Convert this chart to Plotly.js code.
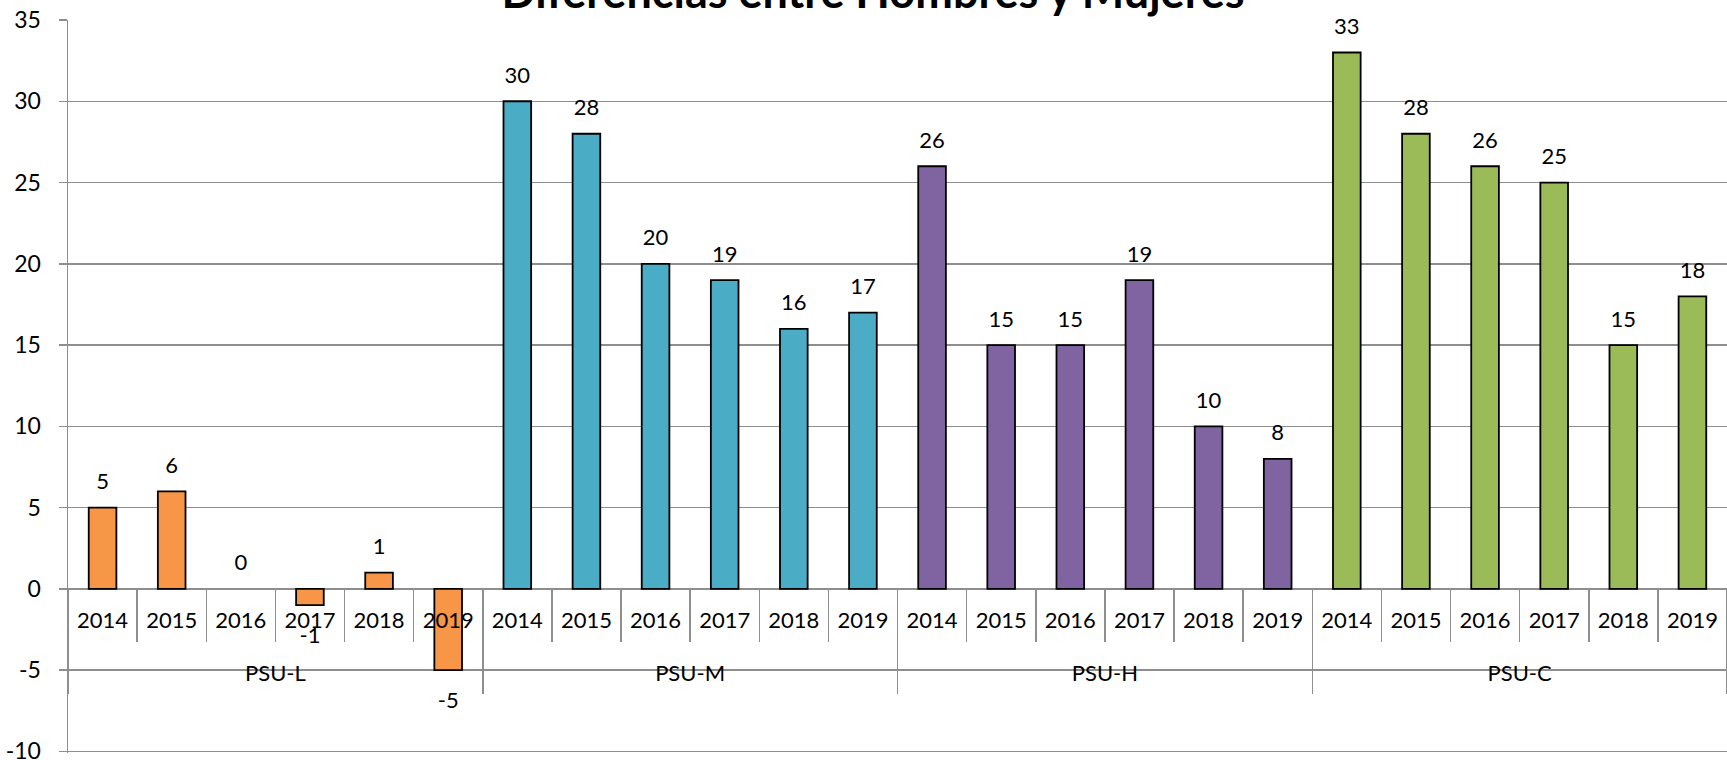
<!DOCTYPE html>
<html><head><meta charset="utf-8">
<script src="https://cdn.plot.ly/plotly-3.0.1.min.js"></script>
<style>html,body{margin:0;padding:0;background:#fff;} #chart{width:1727px;height:760px;}</style>
</head><body><div id="chart"></div>
<script>
const groups = ['PSU-L', 'PSU-M', 'PSU-H', 'PSU-C'];
const years = ['2014', '2015', '2016', '2017', '2018', '2019'];
const psuL = [5, 6, 0, -1, 1, -5];
const psuM = [30, 28, 20, 19, 16, 17];
const psuH = [26, 15, 15, 19, 10, 8];
const psuC = [33, 28, 26, 25, 15, 18];
const yMin = -10, yMax = 35, yStep = 5;

const colors = ['#F79646', '#4BACC6', '#8064A2', '#9BBB59'];
const series = [psuL, psuM, psuH, psuC];
const FONT = 'Lato, "Open Sans", sans-serif';
const GRID = '#8e8e8e';
const n = years.length;
const traces = [];
series.forEach((vals, g) => {
  traces.push({
    type: 'bar', x: vals.map((v, i) => g * n + i), y: vals, width: 0.4,
    marker: {color: colors[g], line: {color: '#000', width: vals.map(v => v === 0 ? 0 : 1.8)}},
    hoverinfo: 'skip', showlegend: false, xaxis: 'x', yaxis: 'y'
  });
});
series.forEach((vals, g) => {
  traces.push({
    type: 'scatter', mode: 'markers+text', x: vals.map((v, i) => g * n + i), y: vals,
    text: vals.map(String),
    textposition: vals.map(v => v < 0 ? 'bottom center' : 'top center'),
    marker: {size: vals.map(v => v < 0 ? 32 : 19), opacity: 0},
    textfont: {family: FONT, size: 22, color: '#000'},
    cliponaxis: false, hoverinfo: 'skip', showlegend: false, xaxis: 'x2', yaxis: 'y'
  });
});

const yearTicks = [], yearText = [];
groups.forEach((gname, gi) => years.forEach((yr, i) => { yearTicks.push(gi * n + i); yearText.push(yr); }));
const groupTicks = groups.map((gname, gi) => gi * n + (n - 1) / 2);
const groupBounds = groups.map((gname, gi) => gi * n - 0.5).concat([groups.length * n - 0.5]);
const yTicks = [];
for (let v = yMin; v <= yMax; v += yStep) yTicks.push(v);
const xr = [-0.5, groups.length * n - 0.5];
const yr0 = yMin - 0.1;
const pos = (0 - yr0) / (yMax - yr0);
const tf = {family: FONT, size: 22, color: '#000'};

const layout = {
  width: 1727, height: 760,
  margin: {l: 68, r: 0, t: 20, b: 7},
  paper_bgcolor: '#fff', plot_bgcolor: '#fff',
  barmode: 'overlay',
  title: {
    text: 'Diferencias entre Hombres y Mujeres',
    font: {family: FONT, size: 45, color: '#000', weight: 'bold'},
    x: 873 / 1727, xref: 'container', xanchor: 'center',
    y: 1 - 8 / 760, yref: 'container', yanchor: 'bottom'
  },
  xaxis: {
    range: xr, anchor: 'free', position: pos,
    tickmode: 'array', tickvals: yearTicks, ticktext: yearText, ticks: '',
    showgrid: false, zeroline: false, showline: false, tickfont: tf,
    ticklabelstandoff: 16,
    minor: {tickmode: 'linear', tick0: -0.5, dtick: 1, ticks: 'outside', ticklen: 52, tickcolor: GRID, tickwidth: 1.5, showgrid: false}
  },
  xaxis2: {
    overlaying: 'x', range: xr, anchor: 'free', position: pos,
    tickmode: 'array', tickvals: groupTicks, ticktext: groups, ticks: '',
    showgrid: false, zeroline: false, showline: false, tickfont: tf,
    ticklabelstandoff: 69,
    minor: {tickmode: 'array', tickvals: groupBounds, ticks: 'outside', ticklen: 104, tickcolor: GRID, tickwidth: 1.5, showgrid: false}
  },
  yaxis: {
    range: [yr0, yMax], tickmode: 'array', tickvals: yTicks, ticktext: yTicks.map(String),
    ticks: 'outside', ticklen: 8, tickcolor: GRID, tickwidth: 1.5,
    showline: true, linecolor: GRID, linewidth: 1.5, gridcolor: GRID, gridwidth: 1.5,
    zeroline: true, zerolinecolor: GRID, zerolinewidth: 1.5,
    tickfont: {family: FONT, size: 23, color: '#000'}, ticklabelstandoff: 13,
    ticklabeloverflow: 'allow'
  }
};
Plotly.newPlot('chart', traces, layout, {displayModeBar: false, staticPlot: true});
</script>
</body></html>
